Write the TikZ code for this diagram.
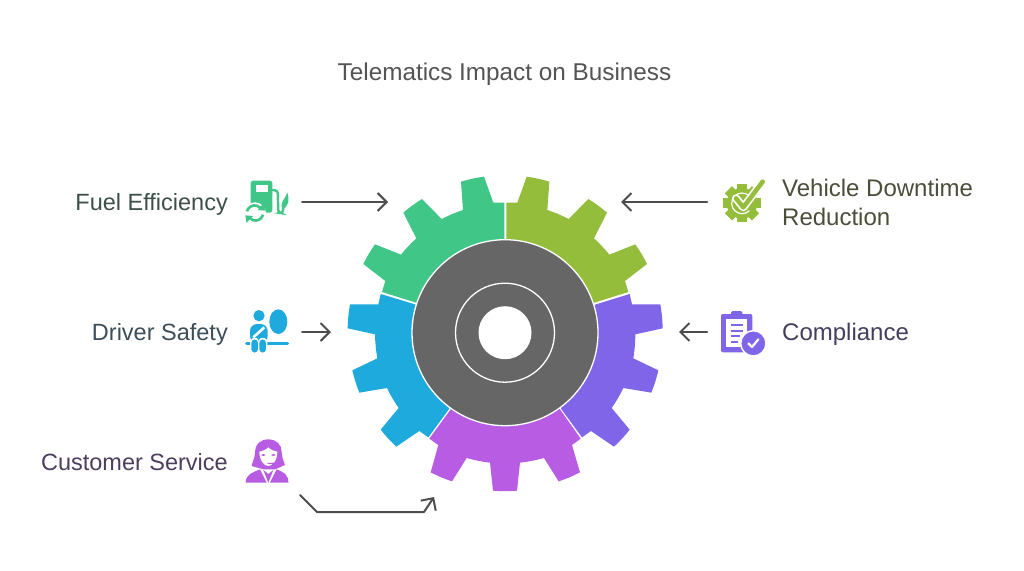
\documentclass[tikz,border=0pt]{standalone}
\usepackage{fontspec}
\setmainfont{Liberation Sans}
\usetikzlibrary{arrows.meta}
\definecolor{cgreen}{HTML}{40C788}
\definecolor{colive}{HTML}{94BD3B}
\definecolor{cblue}{HTML}{1FAADD}
\definecolor{cviolet}{HTML}{8165E8}
\definecolor{cmag}{HTML}{B85CE3}
\definecolor{chub}{HTML}{666666}
\definecolor{carrow}{HTML}{4D4D4D}
\definecolor{tfuel}{HTML}{3D5048}
\definecolor{tsafe}{HTML}{3B4E5A}
\definecolor{tcust}{HTML}{4E3E5E}
\definecolor{tveh}{HTML}{4A4F3A}
\definecolor{tcomp}{HTML}{443F5E}
\tikzset{
  conn/.style={draw=carrow,line width=2pt,-{Straight Barb[length=9pt,width=18pt,line width=2pt]},line cap=round,line join=round},
  lab/.style={inner sep=0pt,font=\fontsize{24}{29}\selectfont},
  labl/.style={inner sep=0pt,font=\fontsize{23.5}{29}\selectfont},
  cc/.style={bend right=4},
  cw/.style={bend left=4},
}
\begin{document}
\begin{tikzpicture}[x=1pt,y=-1pt]
\useasboundingbox (0,0) rectangle (1024,570);
\fill[white] (0,0) rectangle (1024,570);
\node[inner sep=0pt,anchor=base,text=black!67,font=\fontsize{24.3}{29}\selectfont] (title) at (504.5,80.5) {Telematics Impact on Business};
% gear
\begin{scope}[shift={(340,170)},scale=1/3]
\fill[cgreen] (493,300) -- (493,98) -- (460,98) -- (432,20) to[cc] (363,35) -- (369,120) to[cc] (305,147) -- (246,87) to[cc] (190,128) -- (229,205) to[cc] (183,254) -- (105,223) to[cc] (70,282) -- (136,333) -- (126,366) -- (228,398) -- (300,420) -- cycle;
\fill[colive] (499,300) -- (499,98) -- (532,98) -- (560,20) to[cw] (628,35) -- (622,120) to[cw] (686,147) -- (745,87) to[cw] (801,128) -- (762,205) to[cw] (808,254) -- (886,223) to[cw] (921,282) -- (855,333) -- (865,366) -- (763,398) -- (690,420) -- cycle;
\fill[cblue] (122,372) -- (115,403) -- (30,403) to[cc] (23,475) -- (105,493) to[cc] (112,565) -- (37,601) to[cc] (58,668) -- (141,654) to[cc] (176,714) -- (122,779) to[cc] (169,830) -- (238,783) -- (265,802) -- (328,716) -- (330,500) -- (228,404) -- cycle;
\fill[cviolet] (869,372) -- (876,403) -- (961,403) to[cw] (968,475) -- (886,493) to[cw] (880,565) -- (955,601) to[cw] (934,668) -- (850,654) to[cw] (815,714) -- (869,779) to[cw] (822,830) -- (753,783) -- (726,802) -- (663,716) -- (660,500) -- (765,404) -- cycle;
\fill[cmag] (268,806) -- (295,825) -- (272,907) to[cc] (336,934) -- (380,864) to[cc] (450,878) -- (459,962) to[cc] (531,962) -- (540,878) to[cc] (612,864) -- (656,934) to[cc] (720,907) -- (696,825) -- (722,806) -- (660,718) -- (495,600) -- (332,718) -- cycle;
\end{scope}
\fill[chub,draw=white,line width=1.3pt] (505,332.7) circle (93);
\draw[white,line width=1.3pt] (505,332.7) circle (49.5);
\fill[white] (505,332.7) circle (26.5);
% labels
\node[labl,anchor=base east,text=tfuel] (fuel) at (228,210.5) {Fuel Efficiency};
\node[labl,anchor=base east,text=tsafe] (safety) at (228,340.5) {Driver Safety};
\node[labl,anchor=base east,text=tcust] (cust) at (228,470.5) {Customer Service};
\node[lab,anchor=west,align=left,text=tveh] (veh) at (782,202) {Vehicle Downtime\\Reduction};
\node[lab,anchor=base west,text=tcomp] (comp) at (782,340.5) {Compliance};
% connectors
\coordinate (fa) at (302,202); \coordinate (fb) at (388,202);
\coordinate (va) at (707,202); \coordinate (vb) at (621,202);
\coordinate (da) at (302,332); \coordinate (db) at (331,332);
\coordinate (ca) at (707,332); \coordinate (cb) at (679,332);
\coordinate (ua) at (300,495); \coordinate (ub) at (317,512); \coordinate (uc) at (424,512); \coordinate (ud) at (434,497);
\draw[conn] (fa) -- (fb);
\draw[conn] (va) -- (vb);
\draw[conn] (da) -- (db);
\draw[conn] (ca) -- (cb);
\draw[conn] (ua) -- (ub) -- (uc) -- (ud);
% fuel icon
\begin{scope}[shift={(235,170)},scale=1/3]
\fill[cgreen,rounded corners=2.5pt] (47,32) rectangle (112,128);
\fill[white] (62,46) rectangle (98,65);
\draw[cgreen,line width=2.4pt,line cap=round,rounded corners=2.5pt] (112,60) -- (128,62) -- (130,128) -- (143,130) -- (146,100);
\fill[cgreen] (142,118) .. controls (134,95) and (150,88) .. (157,68) .. controls (164,90) and (162,108) .. (142,118) -- cycle;
\fill[white] (60,130) circle (33);
\draw[cgreen,line width=2.6pt] (36,124) arc[start angle=195,end angle=320,radius=24];
\fill[cgreen] (68,120) -- (90,122) -- (87,98) -- cycle;
\draw[cgreen,line width=2.6pt] (84,134) arc[start angle=15,end angle=140,radius=24];
\fill[cgreen] (31,136) -- (54,138) -- (34,158) -- cycle;
\end{scope}
% driver icon
\begin{scope}[shift={(235,300)},scale=1/3]
\fill[cblue] (72,47) circle (17);
\fill[cblue] (130,65) ellipse (27 and 37);
\fill[cblue,rounded corners=7pt] (45,128) -- (45,72) -- (98,72) -- (98,128) -- cycle;
\draw[white,line width=2.6pt] (55,112) -- (88,82);
\draw[cblue,line width=3pt,line cap=round] (35,129) -- (158,129);
\fill[cblue,draw=white,line width=1.2pt,rounded corners=4pt] (47,116) rectangle (71,160);
\fill[cblue,draw=white,line width=1.2pt,rounded corners=4pt] (71,116) rectangle (95,160);
\end{scope}
% customer icon
\begin{scope}[shift={(235,430)},scale=1/3]
\fill[cmag] (100,28) .. controls (75,28) and (60,45) .. (60,65) .. controls (60,85) and (52,95) .. (50,108) -- (85,118) -- (120,118) -- (150,105) .. controls (142,85) and (140,75) .. (140,65) .. controls (140,45) and (125,28) .. (100,28) -- cycle;
\fill[white] (100,52) .. controls (92,60) and (80,64) .. (73,65) .. controls (73,92) and (88,108) .. (100,108) .. controls (112,108) and (127,92) .. (127,65) .. controls (118,64) and (108,60) .. (100,52) -- cycle;
\fill[cmag] (85,75) ellipse (6 and 2.5); \fill[cmag] (115,75) ellipse (6 and 2.5);
\draw[cmag,line width=1.2pt] (132,84) .. controls (128,100) and (115,102) .. (98,100);
\fill[cmag] (132,90) circle (8);
\fill[cmag] (32,158) .. controls (32,135) and (50,128) .. (75,118) -- (95,158) -- cycle;
\fill[cmag] (160,158) .. controls (160,135) and (150,128) .. (125,118) -- (105,158) -- cycle;
\fill[cmag] (85,120) -- (100,132) -- (115,120) -- (100,158) -- cycle;
\end{scope}
% check gear icon
\begin{scope}[shift={(710,170)},scale=1/3]
\foreach \a in {0,45,...,315} \fill[colive,rotate around={\a:(96,100)}] (81,43) rectangle (111,157);
\fill[colive] (96,100) circle (46);
\draw[white,line width=1.2pt] (118,122) arc (45:315:31);
\draw[white,line width=8pt,line cap=round,line join=round] (78,85) -- (100,112) -- (158,35);
\draw[colive,line width=4.5pt,line cap=round,line join=round] (78,85) -- (100,112) -- (158,35);
\end{scope}
% compliance icon
\begin{scope}[shift={(710,300)},scale=1/3]
\fill[cviolet,rounded corners=2pt] (33,42) rectangle (127,157);
\fill[white] (48,57) rectangle (112,142);
\fill[cviolet,rounded corners=1.5pt] (63,33) rectangle (97,52);
\draw[cviolet,line width=2pt] (62,75) -- (98,75) (62,92) -- (98,92) (62,109) -- (90,109) (62,125) -- (85,125);
\fill[cviolet,draw=white,line width=1.5pt] (130,130) circle (38);
\draw[white,line width=2.2pt,line cap=round,line join=round] (115,130) -- (126,141) -- (145,118);
\end{scope}
\end{tikzpicture}
\end{document}
